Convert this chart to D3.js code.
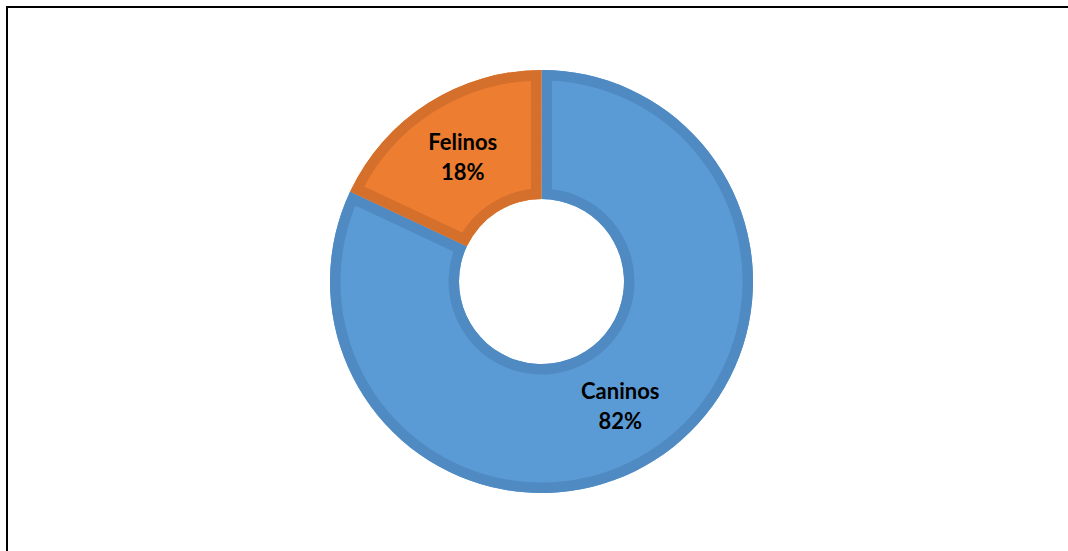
<!DOCTYPE html>
<html>
<head>
<meta charset="utf-8">
<script src="https://cdn.jsdelivr.net/npm/d3@7"></script>
<style>
  html, body { margin: 0; padding: 0; background: #fff; }
  svg { display: block; }
</style>
</head>
<body>
<svg id="chart" width="1068" height="551"></svg>
<script>
// Species share of the patients
const categories = ["Caninos", "Felinos"];
const values = [82, 18];
const fills = ["#5B9BD5", "#ED7D31"];
const edges = ["#4F8AC3", "#D5702C"];

const svg = d3.select("#chart");
const W = 1068, H = 551;

// Chart frame (continues past the right and bottom edges of the view)
svg.append("rect")
  .attr("x", 7).attr("y", 7)
  .attr("width", W + 20).attr("height", H + 20)
  .attr("fill", "none")
  .attr("stroke", "#000")
  .attr("stroke-width", 2);

const cx = 541.5, cy = 281.5;
const outerR = 211.5, innerR = 82.5;
const edgeW = 10.5;

const data = categories.map((c, i) => ({ name: c, value: values[i], fill: fills[i], edge: edges[i] }));

const pie = d3.pie().value(d => d.value).sort(null);
const arc = d3.arc().innerRadius(innerR).outerRadius(outerR);
const arcs = pie(data);

const g = svg.append("g").attr("transform", `translate(${cx},${cy})`);

const defs = svg.append("defs");
arcs.forEach((a, i) => {
  defs.append("clipPath").attr("id", "slice-clip-" + i)
    .append("path").attr("d", arc(a));
});

const slices = g.selectAll("g.slice").data(arcs).enter().append("g").attr("class", "slice");

slices.append("path")
  .attr("d", arc)
  .attr("fill", d => d.data.fill);

// Inner border of each slice: a double-width stroke clipped to the slice
slices.append("path")
  .attr("d", arc)
  .attr("fill", "none")
  .attr("stroke", d => d.data.edge)
  .attr("stroke-width", edgeW * 2)
  .attr("stroke-linejoin", "miter")
  .attr("clip-path", (d, i) => `url(#slice-clip-${i})`);

// Data labels at slice centroids
const fmt = v => Math.round(v / d3.sum(values) * 100) + "%";
const labels = g.selectAll("text.lbl").data(arcs).enter().append("text")
  .attr("class", "lbl")
  .attr("transform", d => `translate(${arc.centroid(d)})`)
  .attr("text-anchor", "middle")
  .style("font-family", "Lato, 'Liberation Sans', sans-serif")
  .style("font-weight", "bold")
  .style("font-size", "22px")
  .attr("fill", "#000");

labels.append("tspan").attr("x", 0).attr("y", -7).text(d => d.data.name);
labels.append("tspan").attr("x", 0).attr("y", 23).text(d => fmt(d.data.value));
</script>
</body>
</html>
